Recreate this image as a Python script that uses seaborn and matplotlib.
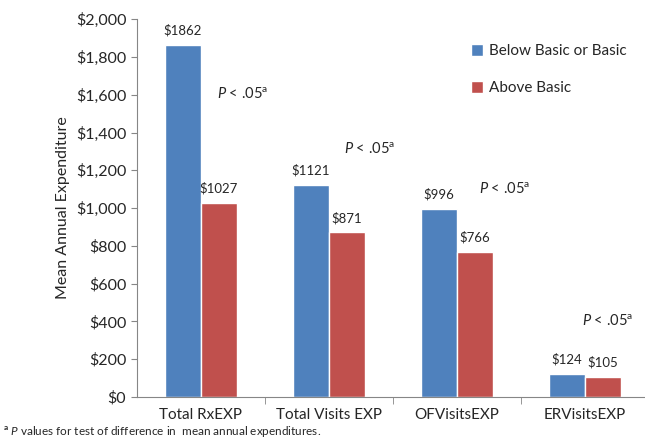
import pandas as pd
import matplotlib.pyplot as plt
import matplotlib.ticker as mticker
import seaborn as sns

# data
categories = ["Total RxEXP", "Total Visits EXP", "OFVisitsEXP", "ERVisitsEXP"]
groups = ["Below Basic or Basic", "Above Basic"]
below_basic = [1862, 1121, 996, 124]
above_basic = [1027, 871, 766, 105]
p_labels = ["P < .05", "P < .05", "P < .05", "P < .05"]

COLORS = ["#4F81BD", "#C0504D"]

sns.set_style("white")
plt.rcParams["font.family"] = ["Lato", "DejaVu Sans"]
plt.rcParams.update({
    "mathtext.fontset": "custom",
    "mathtext.rm": "Lato",
    "mathtext.it": "Lato:italic",
    "mathtext.bf": "Lato:bold",
})

df = pd.DataFrame({
    "category": categories * 2,
    "group": [groups[0]] * 4 + [groups[1]] * 4,
    "value": below_basic + above_basic,
})

fig = plt.figure(figsize=(6.45, 4.46), dpi=100)
ax = fig.add_axes([0.212, 0.11, 0.788, 0.847])

sns.barplot(data=df, x="category", y="value", hue="group", order=categories,
            hue_order=groups, palette=COLORS, width=0.5625, saturation=1,
            ax=ax, errorbar=None)

for cont in ax.containers:
    ax.bar_label(cont, labels=[f"${v:.0f}" for v in cont.datavalues],
                 padding=6, fontsize=9.5)

# significance notes (position per group, in data coords)
p_pos = [(0.13, 1600), (1.12, 1310), (2.17, 1100), (2.98, 400)]
for lab, (x, y) in zip(p_labels, p_pos):
    p, rest = lab.split(" ", 1)
    ax.text(x, y, rf"$\it{{{p}}}$ {rest}$^{{\rm a}}$", fontsize=10.5,
            ha="left", va="center")

ax.set_ylim(0, 2000)
ax.set_xlim(-0.5, 3.47)
ax.yaxis.set_major_locator(mticker.MultipleLocator(200))
ax.yaxis.set_major_formatter(mticker.FuncFormatter(lambda v, _: f"${v:,.0f}"))
ax.set_ylabel("Mean Annual Expenditure", fontsize=11.5)
ax.set_xlabel("")
ax.tick_params(axis="y", labelsize=11.5, length=4, color="#868686", direction="out", left=True)
ax.tick_params(axis="x", labelsize=11, length=0, pad=8)
ax.set_xticks([0.5, 1.5, 2.5], minor=True)
ax.tick_params(axis="x", which="minor", length=5, color="#868686", bottom=True)

for side in ["top", "right"]:
    ax.spines[side].set_visible(False)
for side in ["left", "bottom"]:
    ax.spines[side].set_color("#868686")

ax.legend(loc="upper left", bbox_to_anchor=(0.63, 0.97), frameon=False,
          fontsize=11, handlelength=0.8, handleheight=0.8, labelspacing=1.5,
          handletextpad=0.4)

fig.text(0.005, 0.015, r"$^{\bf a}\ \it{P}$ values for test of difference in  mean annual expenditures.",
         fontsize=8.5, va="bottom")

fig.savefig("out.png", dpi=100)
